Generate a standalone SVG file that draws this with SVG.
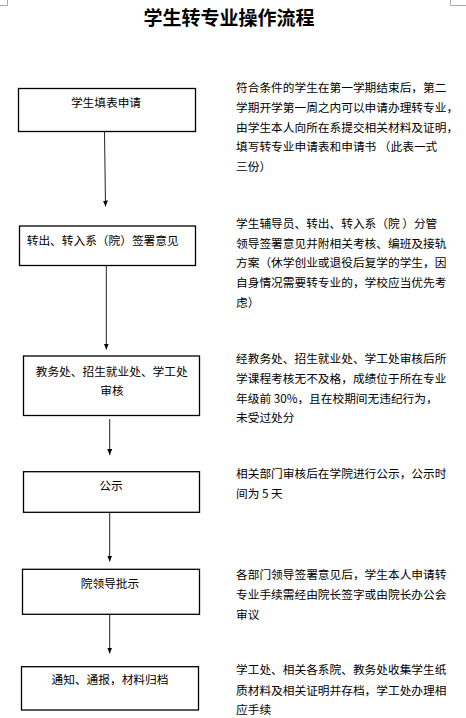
<svg xmlns="http://www.w3.org/2000/svg" width="466" height="718" viewBox="0 0 466 718">
<style>
.t{font-family:"Noto Sans CJK SC","Liberation Sans",sans-serif;font-size:11.7px;fill:#000}
.c{text-anchor:middle}
.title{font-family:"Noto Sans CJK SC","Liberation Sans",sans-serif;font-size:19px;font-weight:bold;text-anchor:middle;fill:#000}
.box{fill:#fff;stroke:#000;stroke-width:1.3}
.con{stroke:#222;stroke-width:1;fill:none;marker-end:url(#ah)}
.mark{stroke:#aaa;stroke-width:1;fill:none}
</style>
<defs>
<marker id="ah" markerUnits="userSpaceOnUse" markerWidth="6" markerHeight="6" viewBox="0 0 6 6" refX="6" refY="3" orient="auto">
<path d="M0,0.5 L6,3 L0,5.5 Z" fill="#000"/>
</marker>
</defs>
<rect width="466" height="718" fill="#fff"/>
<path class="mark" d="M0,5.5 H7.5 V0"/>
<path class="mark" d="M466,5.5 H450.5 V0"/>
<text class="title" x="229" y="25">学生转专业操作流程</text>

<g id="connectors">
<line class="con" x1="104.5" y1="132" x2="105.5" y2="206.5"/>
<line class="con" x1="106.3" y1="266" x2="106.3" y2="349.5"/>
<line class="con" x1="109.7" y1="419" x2="109.7" y2="455"/>
<line class="con" x1="109.7" y1="512.5" x2="109.7" y2="561.5"/>
<line class="con" x1="109.7" y1="614.5" x2="109.7" y2="653.5"/>
</g>

<g id="n1">
<rect class="box" x="18.5" y="88.5" width="177" height="43"/>
<text class="t c" x="106" y="107">学生填表申请</text>
</g>
<g id="n2">
<rect class="box" x="19.5" y="226" width="176" height="39.5"/>
<text class="t" x="26.7" y="245">转出、转入系（院）签署意见</text>
</g>
<g id="n3">
<rect class="box" x="23.5" y="356" width="176" height="59.5"/>
<text class="t c" x="111.7" y="376">教务处、招生就业处、学工处</text>
<text class="t c" x="112" y="395">审核</text>
</g>
<g id="n4">
<rect class="box" x="23.5" y="471.7" width="176" height="40.6"/>
<text class="t c" x="111" y="490">公示</text>
</g>
<g id="n5">
<rect class="box" x="22.5" y="569.3" width="177" height="45"/>
<text class="t c" x="110" y="587.7">院领导批示</text>
</g>
<g id="n6">
<rect class="box" x="21.5" y="666.7" width="177" height="43.3"/>
<text class="t c" x="110" y="684.4">通知、通报，材料归档</text>
</g>

<g id="notes">
<text class="t" x="236"><tspan x="236" y="91.5">符合条件的学生在第一学期结束后，第二</tspan><tspan x="236" y="111.5">学期开学第一周之内可以申请办理转专业，</tspan><tspan x="236" y="131.5">由学生本人向所在系提交相关材料及证明，</tspan><tspan x="236" y="151.2">填写转专业申请表和申请书 （此表一式</tspan><tspan x="236" y="171">三份）</tspan></text>
<text class="t" x="236"><tspan x="236" y="227.7">学生辅导员、转出、转入系（院 ）分管</tspan><tspan x="236" y="247.6">领导签署意见并附相关考核、编班及接轨</tspan><tspan x="236" y="267.2">方案（休学创业或退役后复学的学生，因</tspan><tspan x="236" y="287">自身情况需要转专业的，学校应当优先考</tspan><tspan x="236" y="306.7">虑）</tspan></text>
<text class="t" x="236"><tspan x="236" y="362.7">经教务处、招生就业处、学工处审核后所</tspan><tspan x="236" y="382.7">学课程考核无不及格，成绩位于所在专业</tspan><tspan x="236" y="402.7">年级前 30%，且在校期间无违纪行为，</tspan><tspan x="236" y="422.4">未受过处分</tspan></text>
<text class="t" x="236"><tspan x="236" y="478.4">相关部门审核后在学院进行公示，公示时</tspan><tspan x="236" y="498.4">间为 5 天</tspan></text>
<text class="t" x="236"><tspan x="236" y="579.4">各部门领导签署意见后，学生本人申请转</tspan><tspan x="236" y="599.4">专业手续需经由院长签字或由院长办公会</tspan><tspan x="236" y="619.4">审议</tspan></text>
<text class="t" x="236"><tspan x="236" y="674.4">学工处、相关各系院、教务处收集学生纸</tspan><tspan x="236" y="694.8">质材料及相关证明并存档，学工处办理相</tspan><tspan x="236" y="714.4">应手续</tspan></text>
</g>
</svg>
